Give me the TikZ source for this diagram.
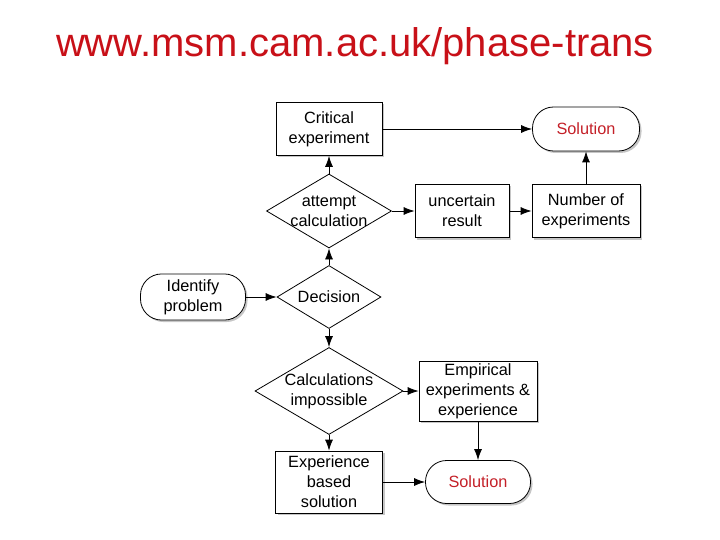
\documentclass[tikz,border=0pt]{standalone}
\usepackage{fontspec}
\setmainfont{Liberation Sans}
\usetikzlibrary{positioning}
\usetikzlibrary{shapes.geometric}
\usetikzlibrary{shadows}
\usetikzlibrary{arrows.meta}
\definecolor{titlered}{RGB}{200,16,24}
\definecolor{solred}{RGB}{196,32,40}

\begin{document}
\begin{tikzpicture}[x=1pt,y=-1pt,
        process/.style={rectangle, draw=black, line width=0.8pt, fill=white, align=center, inner sep=1pt,
            drop shadow={shadow xshift=2pt,shadow yshift=-2pt,opacity=0.45}},
        terminal/.style={rectangle, rounded corners=21pt, draw=black, line width=0.8pt, fill=white, align=center,
            minimum width=105pt, minimum height=43pt,
            drop shadow={shadow xshift=2pt,shadow yshift=-2pt,opacity=0.45}},
        decision/.style={diamond, draw=black, line width=0.8pt, fill=white, align=center, inner sep=-1pt},
        arr/.style={line width=0.8pt,-{Latex[length=11pt,width=8pt]}}
        ]
        \fontsize{16.3}{20}\selectfont
        \useasboundingbox (0,0) rectangle (720,540);
        \node (url) [text=titlered, font=\fontsize{40}{42}\selectfont] at (355,46) {www.msm.cam.ac.uk/phase-trans};
        \node (crit) [process, minimum width=106pt, minimum height=53pt] at (329,129) {Critical\\experiment};
        \node (sol1) [terminal, minimum width=107pt, minimum height=44pt, text=solred] at (586,129) {Solution};
        \node (att)  [decision, minimum width=125pt, minimum height=74pt, aspect=1.7] at (329,211) {attempt\\calculation};
        \node (unc)  [process, minimum width=94pt, minimum height=53pt] at (462,211) {uncertain\\result};
        \node (num)  [process, minimum width=108pt, minimum height=53pt] at (586,211) {Number of\\experiments};
        \node (idp)  [terminal] at (193,297) {Identify\\problem};
        \node (dec)  [decision, minimum width=104pt, minimum height=63pt, aspect=1.65] at (329,297) {Decision};
        \node (calc) [decision, minimum width=148pt, minimum height=87pt, aspect=1.7] at (329,391) {Calculations\\impossible};
        \node (emp)  [process, minimum width=118pt, minimum height=60pt] at (478,391) {Empirical\\experiments \&\\experience};
        \node (exp)  [process, minimum width=107pt, minimum height=62pt] at (329,482) {Experience\\based\\solution};
        \node (sol2) [terminal, text=solred] at (478,482) {Solution};
        \draw[arr] (att) -- (crit);
        \draw[arr] (crit) -- (sol1);
        \draw[arr] (att) -- (unc);
        \draw[arr] (unc) -- (num);
        \draw[arr] (num) -- (sol1);
        \draw[arr] (dec) -- (att);
        \draw[arr] (idp) -- (dec);
        \draw[arr] (dec) -- (calc);
        \draw[arr] (calc) -- (emp);
        \draw[arr] (calc) -- (exp);
        \draw[arr] (emp) -- (sol2);
        \draw[arr] (exp) -- (sol2);
\end{tikzpicture}
\end{document}
